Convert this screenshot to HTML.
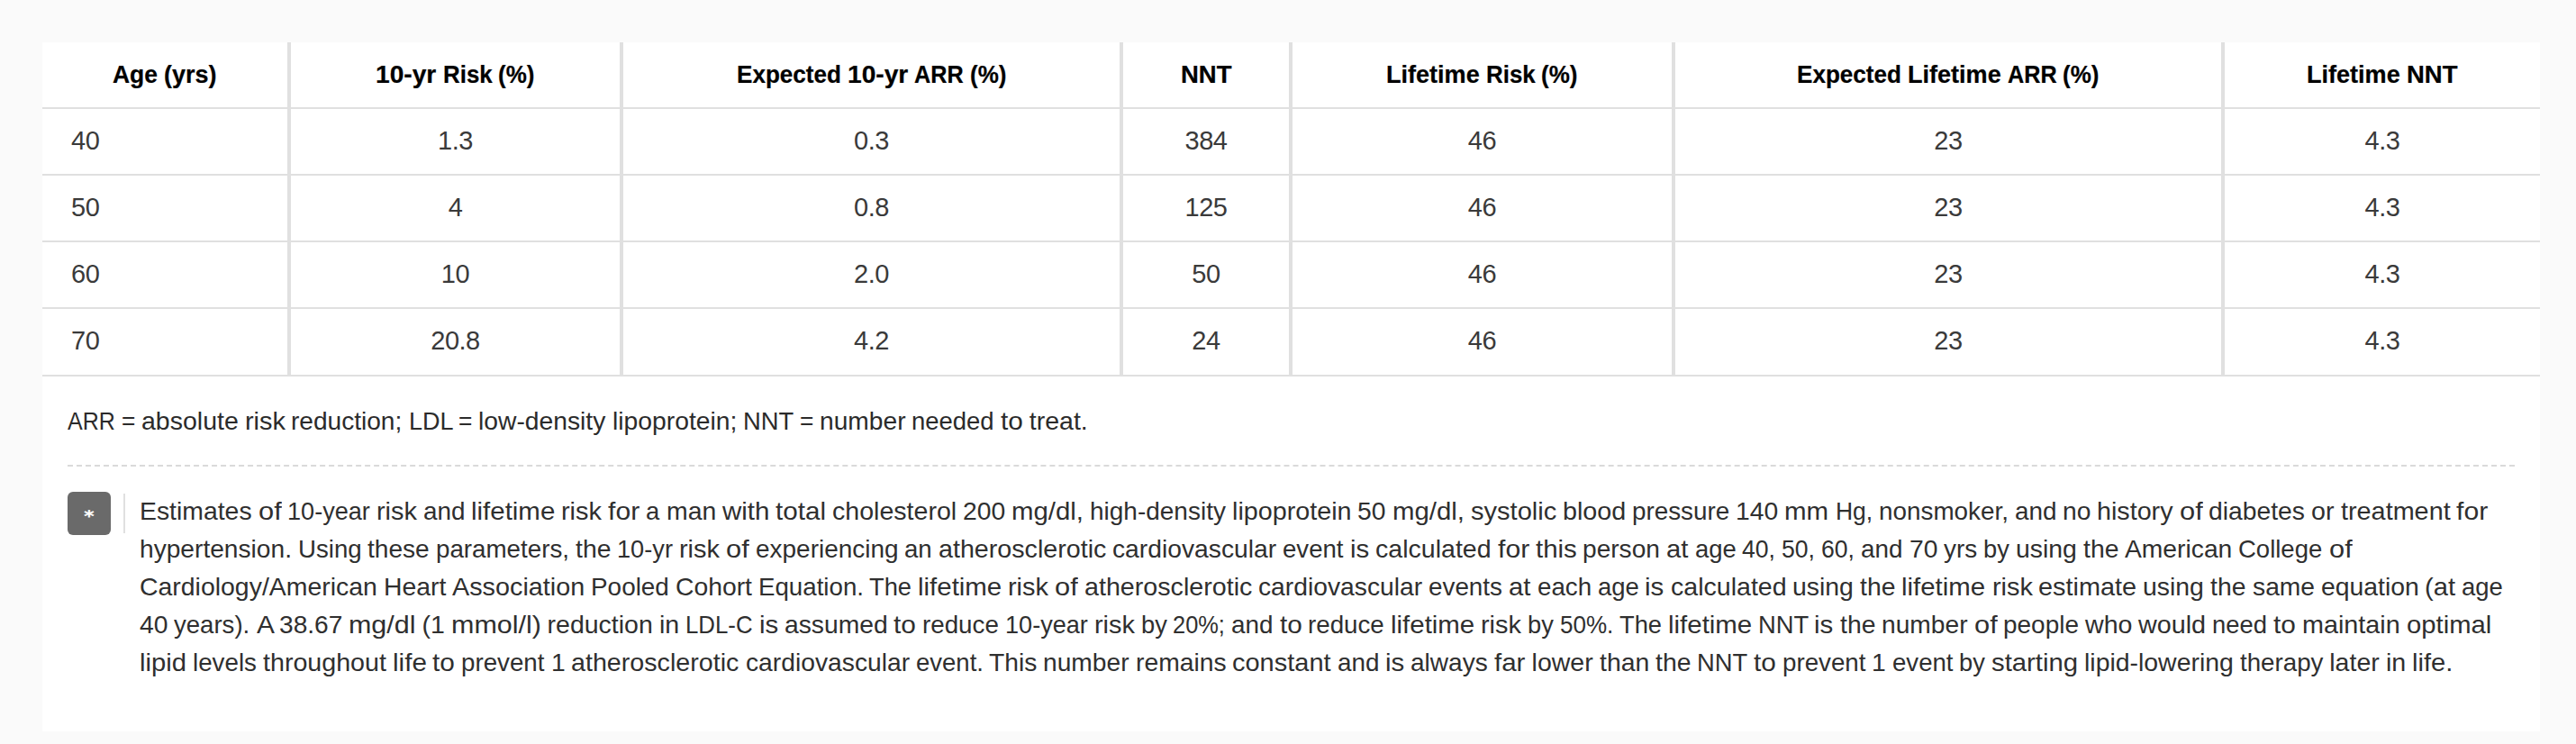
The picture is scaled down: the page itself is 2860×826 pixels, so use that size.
<!DOCTYPE html>
<html lang="en">
<head>
<meta charset="utf-8">
<title>Table</title>
<style>
html,body{margin:0;padding:0;}
html{overflow:hidden;}
body{width:2860px;height:826px;background:#fafafa;position:relative;overflow:hidden;
  font-family:"Liberation Sans",sans-serif;font-size:28px;color:#333;}
.panel{position:absolute;left:47px;top:47px;width:2773px;height:765px;background:#fff;}
table{position:absolute;left:0;top:0;border-collapse:separate;border-spacing:0;table-layout:fixed;width:2773px;}
th,td{box-sizing:border-box;height:74px;padding:0 0 0 0;border-bottom:2px solid #e0e0e0;border-right:4px solid #e0e0e0;
  text-align:center;vertical-align:top;padding-top:20px;white-space:nowrap;line-height:32px;}
th:last-child,td:last-child{border-right:0;}
th{font-weight:bold;color:#000;font-size:28.3px;padding-top:19px;-webkit-text-stroke:.24px #000;}
td{font-size:29px;letter-spacing:-.5px;padding-top:19px;color:#3a3a3a;}
td:first-child{text-align:left;padding-left:32px;}

tr:last-child td{height:75px;}
th span,td span{display:inline-block;position:relative;}
.note{position:absolute;left:28px;top:399px;white-space:nowrap;line-height:42px;font-size:28.5px;color:#2b2b2b;}
.rule{position:absolute;left:28px;top:469px;width:2717px;height:0;border-top:2px dashed #dadada;}
.badge{position:absolute;left:28px;top:499px;width:48px;height:48px;border-radius:6px;background:#6a6a6a;color:#fff;
  text-align:center;font-weight:bold;}
.badge span{position:absolute;left:0;top:3px;width:48px;text-align:center;font-family:'DejaVu Sans',sans-serif;font-size:18px;line-height:48px;transform:scaleX(1.2);-webkit-text-stroke:.2px #fff;}
.vbar{position:absolute;left:90px;top:501px;width:2px;height:44px;background:#e0e0e0;}
.fn{position:absolute;left:108px;top:499px;}
.fn div{white-space:nowrap;height:42px;line-height:42px;font-size:28.5px;color:#2f2f2f;}
.ln{font-size:0;line-height:0;white-space:nowrap;}
.ln>span{display:inline-block;text-align:left;white-space:nowrap;vertical-align:baseline;transform-origin:0 50%;}
th .ln>span{font-size:28.3px;line-height:32px;}
.note .ln>span,.fn .ln>span{font-size:28.5px;line-height:42px;}
</style>
</head>
<body>
<div class="panel">
<table>
<colgroup><col style="width:276px"><col style="width:369px"><col style="width:555px"><col style="width:188px"><col style="width:425px"><col style="width:610px"><col style="width:350px"></colgroup>
<thead>
<tr><th><span id="h1" class="ln"><span style="width:56.95px;transform:scaleX(.9348)">Age</span> <span style="width:58.42px;transform:scaleX(.9524)">(yrs)</span></span></th><th><span id="h2" class="ln"><span style="width:74.27px;transform:scaleX(.9947)">10-yr</span> <span style="width:61.62px;transform:scaleX(.9145)">Risk</span> <span style="width:40.39px;transform:scaleX(.9176)">(%)</span></span></th><th><span id="h3" class="ln"><span style="width:122.88px;transform:scaleX(.9213)">Expected</span> <span style="width:74.26px;transform:scaleX(.9949)">10-yr</span> <span style="width:61.56px;transform:scaleX(.8904)">ARR</span> <span style="width:40.39px;transform:scaleX(.9176)">(%)</span></span></th><th><span id="h4" class="ln"><span style="width:56.5px;transform:scaleX(.9715)">NNT</span></span></th><th><span id="h5" class="ln"><span style="width:110.66px;transform:scaleX(.9556)">Lifetime</span> <span style="width:61.62px;transform:scaleX(.9145)">Risk</span> <span style="width:40.39px;transform:scaleX(.9176)">(%)</span></span></th><th><span id="h6" class="ln"><span style="width:122.88px;transform:scaleX(.9213)">Expected</span> <span style="width:110.65px;transform:scaleX(.9558)">Lifetime</span> <span style="width:61.56px;transform:scaleX(.8904)">ARR</span> <span style="width:40.39px;transform:scaleX(.9176)">(%)</span></span></th><th><span id="h7" class="ln"><span style="width:110.66px;transform:scaleX(.9556)">Lifetime</span> <span style="width:56.5px;transform:scaleX(.9713)">NNT</span></span></th></tr>
</thead>
<tbody>
<tr><td><span>40</span></td><td><span>1.3</span></td><td><span>0.3</span></td><td><span>384</span></td><td><span>46</span></td><td><span>23</span></td><td><span>4.3</span></td></tr>
<tr><td><span>50</span></td><td><span>4</span></td><td><span>0.8</span></td><td><span>125</span></td><td><span>46</span></td><td><span>23</span></td><td><span>4.3</span></td></tr>
<tr><td><span>60</span></td><td><span>10</span></td><td><span>2.0</span></td><td><span>50</span></td><td><span>46</span></td><td><span>23</span></td><td><span>4.3</span></td></tr>
<tr><td><span>70</span></td><td><span>20.8</span></td><td><span>4.2</span></td><td><span>24</span></td><td><span>46</span></td><td><span>23</span></td><td><span>4.3</span></td></tr>
</tbody>
</table>
<div class="note"><span id="n1" class="ln"><span style="width:59.72px;transform:scaleX(.8769)">ARR</span> <span style="width:22.31px;transform:scaleX(.9222)">=</span> <span style="width:114.56px">absolute</span> <span style="width:51.89px;transform:scaleX(1.0137)">risk</span> <span style="width:130.22px;transform:scaleX(.9849)">reduction;</span> <span style="width:55.49px;transform:scaleX(.9475)">LDL</span> <span style="width:22.31px;transform:scaleX(.9231)">=</span> <span style="width:148.27px;transform:scaleX(.9915)">low-density</span> <span style="width:145.35px;transform:scaleX(.9928)">lipoprotein;</span> <span style="width:62.66px;transform:scaleX(.9596)">NNT</span> <span style="width:22.31px;transform:scaleX(.9231)">=</span> <span style="width:102.47px;transform:scaleX(.9884)">number</span> <span style="width:98.53px;transform:scaleX(.963)">needed</span> <span style="width:31.8px;transform:scaleX(1.0453)">to</span> <span style="width:65.02px">treat.</span></span></div>
<div class="rule"></div>
<div class="badge"><span>*</span></div>
<div class="vbar"></div>
<div class="fn">
<div><span id="f1" class="ln"><span style="width:131.52px;transform:scaleX(.9956)">Estimates</span> <span style="width:32.65px;transform:scaleX(1.0815)">of</span> <span style="width:98.78px;transform:scaleX(.9505)">10-year</span> <span style="width:51.89px;transform:scaleX(1.0137)">risk</span> <span style="width:53.43px;transform:scaleX(.9777)">and</span> <span style="width:100.18px;transform:scaleX(1.0331)">lifetime</span> <span style="width:51.89px;transform:scaleX(1.0141)">risk</span> <span style="width:42.14px;transform:scaleX(1.0577)">for</span> <span style="width:22.18px;transform:scaleX(.9606)">a</span> <span style="width:62.18px;transform:scaleX(.9966)">man</span> <span style="width:59.39px;transform:scaleX(1.0348)">with</span> <span style="width:63px;transform:scaleX(1.0403)">total</span> <span style="width:145.1px;transform:scaleX(1.0024)">cholesterol</span> <span style="width:54.15px;transform:scaleX(.9928)">200</span> <span style="width:86.88px;transform:scaleX(1.03)">mg/dl,</span> <span style="width:157.83px;transform:scaleX(.9819)">high-density</span> <span style="width:139.45px;transform:scaleX(1.0076)">lipoprotein</span> <span style="width:38.41px;transform:scaleX(.9926)">50</span> <span style="width:86.89px;transform:scaleX(1.03)">mg/dl,</span> <span style="width:102.22px;transform:scaleX(1.0197)">systolic</span> <span style="width:77.2px;transform:scaleX(1.0076)">blood</span> <span style="width:115.17px;transform:scaleX(.9759)">pressure</span> <span style="width:54.14px;transform:scaleX(.9928)">140</span> <span style="width:56.06px;transform:scaleX(1.0342)">mm</span> <span style="width:48.16px;transform:scaleX(.9289)">Hg,</span> <span style="width:150.89px;transform:scaleX(.977)">nonsmoker,</span> <span style="width:53.44px;transform:scaleX(.9773)">and</span> <span style="width:38.37px;transform:scaleX(.9911)">no</span> <span style="width:91.46px;transform:scaleX(1.0069)">history</span> <span style="width:32.65px;transform:scaleX(1.0815)">of</span> <span style="width:113.8px;transform:scaleX(.9917)">diabetes</span> <span style="width:32.41px;transform:scaleX(1.0049)">or</span> <span style="width:128.59px;transform:scaleX(1.0105)">treatment</span> <span style="width:35.22px;transform:scaleX(1.0582)">for</span></span></div>
<div><span id="f2" class="ln"><span style="width:175.89px;transform:scaleX(.9874)">hypertension.</span> <span style="width:77.55px;transform:scaleX(.9689)">Using</span> <span style="width:75.67px;transform:scaleX(.9859)">these</span> <span style="width:154.94px;transform:scaleX(.9732)">parameters,</span> <span style="width:46.37px;transform:scaleX(.9953)">the</span> <span style="width:68.89px;transform:scaleX(.9538)">10-yr</span> <span style="width:51.89px;transform:scaleX(1.0141)">risk</span> <span style="width:32.64px;transform:scaleX(1.0815)">of</span> <span style="width:165.52px;transform:scaleX(.9811)">experiencing</span> <span style="width:37.64px;transform:scaleX(.9685)">an</span> <span style="width:193.36px;transform:scaleX(1.0057)">atherosclerotic</span> <span style="width:189.08px;transform:scaleX(.9912)">cardiovascular</span> <span style="width:74.47px;transform:scaleX(.9686)">event</span> <span style="width:28.2px;transform:scaleX(1.0334)">is</span> <span style="width:135.58px;transform:scaleX(1.0023)">calculated</span> <span style="width:42.14px;transform:scaleX(1.0582)">for</span> <span style="width:52.78px;transform:scaleX(1.0331)">this</span> <span style="width:92.89px;transform:scaleX(.9862)">person</span> <span style="width:31.33px;transform:scaleX(1.0263)">at</span> <span style="width:52.75px;transform:scaleX(.9632)">age</span> <span style="width:43.92px;transform:scaleX(.9334)">40,</span> <span style="width:43.94px;transform:scaleX(.9338)">50,</span> <span style="width:43.92px;transform:scaleX(.9334)">60,</span> <span style="width:53.44px;transform:scaleX(.9773)">and</span> <span style="width:38.4px;transform:scaleX(.9926)">70</span> <span style="width:44.14px;transform:scaleX(.979)">yrs</span> <span style="width:35.77px;transform:scaleX(.957)">by</span> <span style="width:74.83px;transform:scaleX(.9961)">using</span> <span style="width:46.37px;transform:scaleX(.9953)">the</span> <span style="width:126.25px;transform:scaleX(.9912)">American</span> <span style="width:100.19px;transform:scaleX(.9648)">College</span> <span style="width:25.7px;transform:scaleX(1.0808)">of</span></span></div>
<div><span id="f3" class="ln"><span style="width:270.81px;transform:scaleX(.9975)">Cardiology/American</span> <span style="width:76.33px;transform:scaleX(.9955)">Heart</span> <span style="width:154.17px;transform:scaleX(1.0102)">Association</span> <span style="width:93.82px;transform:scaleX(.979)">Pooled</span> <span style="width:91.85px;transform:scaleX(.9927)">Cohort</span> <span style="width:123.43px;transform:scaleX(.9717)">Equation.</span> <span style="width:53.92px;transform:scaleX(.9564)">The</span> <span style="width:100.19px;transform:scaleX(1.0329)">lifetime</span> <span style="width:51.89px;transform:scaleX(1.0141)">risk</span> <span style="width:32.64px;transform:scaleX(1.0815)">of</span> <span style="width:193.36px;transform:scaleX(1.0058)">atherosclerotic</span> <span style="width:189.09px;transform:scaleX(.9912)">cardiovascular</span> <span style="width:88.92px;transform:scaleX(.9762)">events</span> <span style="width:31.33px;transform:scaleX(1.0256)">at</span> <span style="width:67.11px;transform:scaleX(.9735)">each</span> <span style="width:52.73px;transform:scaleX(.9632)">age</span> <span style="width:28.21px;transform:scaleX(1.0334)">is</span> <span style="width:135.58px;transform:scaleX(1.0023)">calculated</span> <span style="width:74.82px;transform:scaleX(.9963)">using</span> <span style="width:46.38px;transform:scaleX(.9949)">the</span> <span style="width:100.19px;transform:scaleX(1.0327)">lifetime</span> <span style="width:51.87px;transform:scaleX(1.0141)">risk</span> <span style="width:116.02px;transform:scaleX(1.0125)">estimate</span> <span style="width:74.82px;transform:scaleX(.9961)">using</span> <span style="width:46.38px;transform:scaleX(.9953)">the</span> <span style="width:76.03px;transform:scaleX(.9913)">same</span> <span style="width:115.77px;transform:scaleX(.9951)">equation</span> <span style="width:40.92px;transform:scaleX(1.0211)">(at</span> <span style="width:45.81px;transform:scaleX(.9632)">age</span></span></div>
<div><span id="f4" class="ln"><span style="width:38.41px;transform:scaleX(.9931)">40</span> <span style="width:91.17px;transform:scaleX(.9668)">years).</span> <span style="width:25.2px;transform:scaleX(1.0474)">A</span> <span style="width:77.28px;transform:scaleX(.986)">38.67</span> <span style="width:81.38px;transform:scaleX(1.0679)">mg/dl</span> <span style="width:32.26px">(1</span> <span style="width:106.94px;transform:scaleX(1.0704)">mmol/l)</span> <span style="width:124.31px">reduction</span> <span style="width:29.21px;transform:scaleX(1.0035)">in</span> <span style="width:81.45px;transform:scaleX(.9048)">LDL-C</span> <span style="width:28.2px;transform:scaleX(1.0326)">is</span> <span style="width:121.71px;transform:scaleX(.9924)">assumed</span> <span style="width:31.79px;transform:scaleX(1.046)">to</span> <span style="width:91.77px;transform:scaleX(.9733)">reduce</span> <span style="width:98.78px;transform:scaleX(.9505)">10-year</span> <span style="width:51.89px;transform:scaleX(1.0137)">risk</span> <span style="width:35.77px;transform:scaleX(.957)">by</span> <span style="width:64.84px;transform:scaleX(.8913)">20%;</span> <span style="width:53.44px;transform:scaleX(.9777)">and</span> <span style="width:31.79px;transform:scaleX(1.0453)">to</span> <span style="width:91.75px;transform:scaleX(.9731)">reduce</span> <span style="width:100.19px;transform:scaleX(1.0329)">lifetime</span> <span style="width:51.89px;transform:scaleX(1.0141)">risk</span> <span style="width:35.77px;transform:scaleX(.957)">by</span> <span style="width:65.75px;transform:scaleX(.9137)">50%.</span> <span style="width:53.92px;transform:scaleX(.9567)">The</span> <span style="width:100.19px;transform:scaleX(1.0329)">lifetime</span> <span style="width:62.65px;transform:scaleX(.9599)">NNT</span> <span style="width:28.22px;transform:scaleX(1.0334)">is</span> <span style="width:46.38px;transform:scaleX(.9949)">the</span> <span style="width:102.45px;transform:scaleX(.9884)">number</span> <span style="width:32.64px;transform:scaleX(1.0815)">of</span> <span style="width:90.88px;transform:scaleX(.9806)">people</span> <span style="width:59.37px;transform:scaleX(1.0027)">who</span> <span style="width:81.98px;transform:scaleX(1.0078)">would</span> <span style="width:67.9px;transform:scaleX(.9613)">need</span> <span style="width:31.81px;transform:scaleX(1.046)">to</span> <span style="width:115.65px;transform:scaleX(1.0091)">maintain</span> <span style="width:94.27px;transform:scaleX(1.0258)">optimal</span></span></div>
<div><span id="f5" class="ln"><span style="width:58.88px;transform:scaleX(1.0247)">lipid</span> <span style="width:77.92px;transform:scaleX(.9741)">levels</span> <span style="width:143.86px;transform:scaleX(1.0046)">throughout</span> <span style="width:44.81px;transform:scaleX(1.0395)">life</span> <span style="width:31.8px;transform:scaleX(1.0453)">to</span> <span style="width:99.42px;transform:scaleX(.9727)">prevent</span> <span style="width:22.68px;transform:scaleX(.9931)">1</span> <span style="width:193.36px;transform:scaleX(1.0058)">atherosclerotic</span> <span style="width:189.08px;transform:scaleX(.9912)">cardiovascular</span> <span style="width:81.31px;transform:scaleX(.9648)">event.</span> <span style="width:60.33px;transform:scaleX(.9913)">This</span> <span style="width:102.46px;transform:scaleX(.9885)">number</span> <span style="width:107.53px;transform:scaleX(.9924)">remains</span> <span style="width:116.5px;transform:scaleX(1.0168)">constant</span> <span style="width:53.43px;transform:scaleX(.9777)">and</span> <span style="width:28.21px;transform:scaleX(1.0326)">is</span> <span style="width:92.75px;transform:scaleX(.9849)">always</span> <span style="width:41.39px;transform:scaleX(1.0357)">far</span> <span style="width:75.11px">lower</span> <span style="width:62.22px;transform:scaleX(.9963)">than</span> <span style="width:46.37px;transform:scaleX(.9953)">the</span> <span style="width:62.66px;transform:scaleX(.9594)">NNT</span> <span style="width:31.79px;transform:scaleX(1.0453)">to</span> <span style="width:99.43px;transform:scaleX(.9727)">prevent</span> <span style="width:22.68px;transform:scaleX(.9921)">1</span> <span style="width:74.47px;transform:scaleX(.9684)">event</span> <span style="width:35.77px;transform:scaleX(.957)">by</span> <span style="width:103.11px;transform:scaleX(1.0287)">starting</span> <span style="width:172.76px;transform:scaleX(.997)">lipid-lowering</span> <span style="width:99.38px;transform:scaleX(.9722)">therapy</span> <span style="width:62.48px">later</span> <span style="width:29.22px;transform:scaleX(1.0042)">in</span> <span style="width:45.27px;transform:scaleX(1.0204)">life.</span></span></div>
</div>
</div>
<script>(function(){var w=window.innerWidth;if(w&&Math.abs(w-2860)>1){document.documentElement.style.zoom=w/2860;}})();</script>
</body>
</html>
